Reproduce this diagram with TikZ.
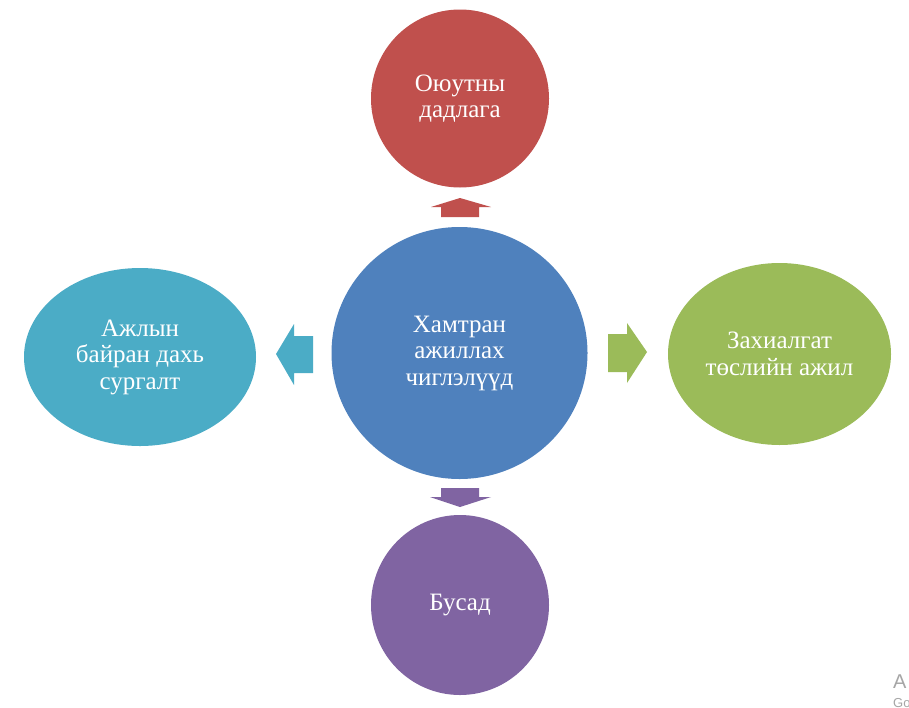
\documentclass[tikz,border=0pt]{standalone}
\usepackage{fontspec}
\setmainfont{Liberation Serif}
\newfontfamily\wmfont{Liberation Sans}
\usetikzlibrary{shapes.geometric}
\definecolor{cred}{HTML}{C0504D}
\definecolor{cblue}{HTML}{4F81BD}
\definecolor{cgreen}{HTML}{9BBB59}
\definecolor{cpurple}{HTML}{8064A2}
\definecolor{caqua}{HTML}{4BACC6}
\tikzset{
  bubble/.style={ellipse, inner sep=0pt, text=white, align=center,
    font=\fontsize{25}{26.5}\selectfont}
}
\begin{document}
\begin{tikzpicture}[x=1pt,y=-1pt]
\useasboundingbox[fill=white] (0,0) rectangle (909,707);
% nodes
\node[bubble, fill=cblue, minimum width=256, minimum height=252] (c) at (459.5,353) {Хамтран\\ажиллах\\чиглэлүүд};
\node[bubble, fill=cred, minimum width=178, minimum height=178] (t) at (460,98.5) {Оюутны\\дадлага};
\node[bubble, fill=cpurple, minimum width=178, minimum height=180] (b) at (460,605) {Бусад};
\node[bubble, fill=caqua, minimum width=232, minimum height=178] (l) at (140,357) {Ажлын\\байран дахь\\сургалт};
\node[bubble, fill=cgreen, minimum width=223, minimum height=182] (r) at (779.5,354) {Захиалгат\\төслийн ажил};
% block arrows from the centre towards each bubble
\fill[cred] (460,198) -- (491,207) -- (479,207) -- (479,217) -- (441,217) -- (441,207) -- (431,207) -- cycle;
\fill[cpurple] (460,507) -- (491,497) -- (479,497) -- (479,488) -- (441,488) -- (441,497) -- (430,497) -- cycle;
\fill[caqua] (276,354) -- (294,324) -- (294,336) -- (313,336) -- (313,373) -- (294,373) -- (294,385) -- cycle;
\fill[cgreen] (647,352) -- (627,323) -- (627,334) -- (608,334) -- (608,372) -- (627,372) -- (627,383) -- cycle;
% watermark fragments
\node[anchor=base west, text=black!35, inner sep=0pt, font=\wmfont\fontsize{20}{20}\selectfont] (wa) at (893,688) {A};
\node[anchor=base west, text=black!35, inner sep=0pt, font=\wmfont\fontsize{13}{13}\selectfont] (wg) at (893,707) {Go};
\end{tikzpicture}
\end{document}
